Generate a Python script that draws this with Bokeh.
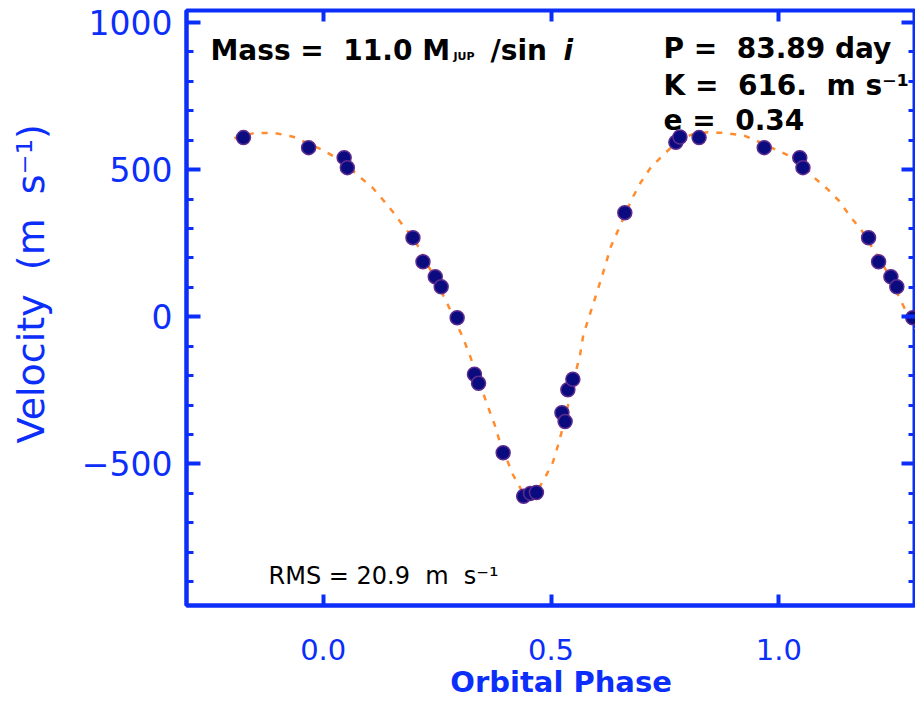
from bokeh.plotting import figure
from bokeh.models import (LinearAxis, FixedTicker, PrintfTickFormatter, Label,
                          Range1d, ColumnDataSource)
from bokeh.embed import file_html
from bokeh.resources import INLINE

# ---------------- data ----------------
# radial-velocity observations, orbital phase in [0, 1)
obs_phase = [0.825, 0.968, 0.046, 0.053, 0.197, 0.219, 0.246, 0.259, 0.294,
             0.332, 0.341, 0.395, 0.440, 0.455, 0.468, 0.524, 0.531, 0.537,
             0.548, 0.662, 0.774, 0.783]
obs_vel = [609, 575, 541, 507, 269, 187, 136, 102, -3,
           -195, -226, -462, -610, -600, -597, -326, -356, -248,
           -212, 354, 593, 611]

# Keplerian fit curve (dashed orange)
curve_phase = [-0.195, -0.151, -0.107, -0.066, -0.001, 0.040, 0.083, 0.109,
               0.131, 0.156, 0.178, 0.200, 0.237, 0.273, 0.306, 0.321, 0.361,
               0.376, 0.387, 0.416, 0.434, 0.455, 0.470, 0.485, 0.504, 0.515,
               0.526, 0.555, 0.564, 0.571, 0.610, 0.632, 0.679, 0.697, 0.719,
               0.745, 0.780, 0.810, 0.844, 0.880, 0.924, 0.950, 1.015, 1.050,
               1.077, 1.107, 1.132, 1.158, 1.180, 1.237, 1.275, 1.300]
curve_vel = [607, 625, 625, 612, 567, 530, 472, 438,
             398, 351, 304, 264, 155, 43, -68, -127, -303,
             -365, -422, -535, -586, -612, -590, -552, -495, -439,
             -376, -184, -127, -61, 128, 241, 405, 457, 508,
             548, 600, 620, 627, 625, 616, 599, 553, 525,
             474, 434, 395, 338, 298, 155, 32, -40]

x_ticks = [0.0, 0.5, 1.0]
y_ticks = [-500, 0, 500, 1000]
y_minor = list(range(-900, 1001, 100))

# phase window in which folded copies are drawn
WIN_LO, WIN_HI = -0.2, 1.3
fx, fy = [], []
for ph, v in zip(obs_phase, obs_vel):
    for shift in (-1, 0, 1):
        q = ph + shift
        if WIN_LO <= q <= WIN_HI:
            fx.append(q)
            fy.append(v)
pts = ColumnDataSource(dict(phase=fx, vel=fy))
fit = ColumnDataSource(dict(phase=curve_phase, vel=curve_vel))

# ---------------- figure ----------------
X_LO, X_HI = -0.3, 1.3
Y_LO, Y_HI = -981, 1041
BLUE = "#0C2EFA"
FONT = "DejaVu Sans"

p = figure(width=915, height=702, x_range=Range1d(X_LO, X_HI),
           y_range=Range1d(Y_LO, Y_HI), output_backend="svg",
           toolbar_location=None, min_border_left=186, min_border_right=0,
           min_border_top=10, min_border_bottom=97,
           background_fill_color="white", border_fill_color="white")
p.xgrid.grid_line_color = None
p.ygrid.grid_line_color = None
p.outline_line_color = BLUE
p.outline_line_width = 4

xt = FixedTicker(ticks=x_ticks, minor_ticks=[])
yt = FixedTicker(ticks=y_ticks, minor_ticks=y_minor)


def style(ax, is_x):
    ax.ticker = xt if is_x else yt
    ax.axis_line_color = BLUE
    ax.axis_line_width = 4
    ax.major_tick_line_color = BLUE
    ax.major_tick_line_width = 4
    ax.minor_tick_line_color = BLUE
    ax.minor_tick_line_width = 3
    ax.major_tick_out = 0
    ax.minor_tick_out = 0
    ax.major_tick_in = 11 if is_x else 14
    ax.minor_tick_in = 7
    ax.major_label_text_color = BLUE
    ax.major_label_text_font = FONT
    ax.axis_label_text_color = BLUE
    ax.axis_label_text_font = FONT
    ax.axis_label_text_font_style = "normal"


xa = p.xaxis[0]
style(xa, True)
xa.formatter = PrintfTickFormatter(format="%.1f")
xa.major_label_text_font_size = "29px"
xa.major_label_standoff = 33
xa.axis_label = "\u00a0\u00a0Orbital Phase"
xa.axis_label_text_font_size = "29px"
xa.axis_label_text_font_style = "bold"
xa.axis_label_standoff = 2

ya = p.yaxis[0]
style(ya, False)
ya.major_label_overrides = {-500: "\u2212500"}
ya.major_label_text_font_size = "33px"
ya.major_label_standoff = 14
ya.axis_label = "\u00a0" * 4 + "Velocity\u00a0 (m\u00a0 s\u207b\u00b9)"
ya.axis_label_text_font_size = "38px"
ya.axis_label_standoff = 26

for loc, is_x in (("above", True), ("right", False)):
    ax = LinearAxis()
    style(ax, is_x)
    ax.axis_line_color = None
    ax.major_label_text_font_size = "0px"
    ax.major_label_text_color = None
    ax.major_label_standoff = 0
    ax.axis_label = None
    p.add_layout(ax, loc)

# fit curve and observations
p.line("phase", "vel", source=fit, line_color="#FF8C2E", line_width=2.5,
       line_dash="6 8")
p.scatter("phase", "vel", source=pts, size=14, fill_color="#0B0B80",
          line_color="#5E2C8E", line_width=1.5)

# ---------------- annotations ----------------
FX0, FX1, FY0, FY1 = 186.0, 915.0, 10.0, 605.0  # frame edges on the page


def dx(px):
    return X_LO + (px - FX0) / (FX1 - FX0) * (X_HI - X_LO)


def dy(py):
    return Y_HI - (py - FY0) / (FY1 - FY0) * (Y_HI - Y_LO)


def lab(px, py, text, size, style="bold"):
    # py is the vertical centre of the text line
    p.add_layout(Label(x=dx(px), y=dy(py), text=text, text_font=FONT,
                       text_font_size=size, text_font_style=style,
                       text_color="black", text_baseline="middle",
                       text_align="left"))


lab(210, 50, "Mass =\u00a0 11.0 M", "28px")
lab(453, 56, "JUP", "11px")
lab(490, 50, "/sin", "28px")
lab(563, 50, "i", "28px", "bold italic")
lab(663, 48, "P =\u00a0 83.89 day", "28px")
lab(663, 85, "K =\u00a0 616.\u00a0 m s\u207b\u00b9", "28px")
lab(663, 120, "e =\u00a0 0.34", "28px")
lab(268, 575, "RMS = 20.9\u00a0 m\u00a0 s\u207b\u00b9", "24px", "normal")

open("out.html", "w").write(file_html(p, INLINE))
